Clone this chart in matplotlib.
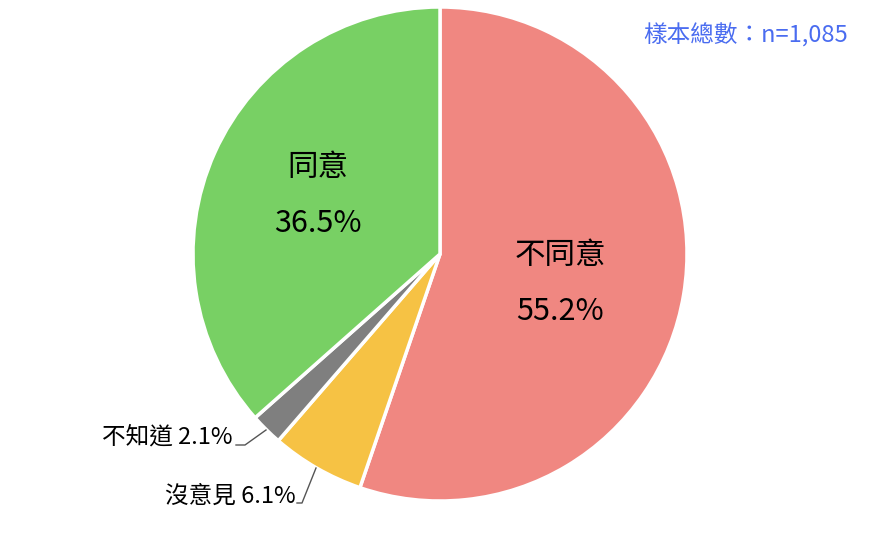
import matplotlib
matplotlib.use("Agg")
import matplotlib.pyplot as plt

plt.rcParams['font.family'] = ['Noto Sans CJK TC', 'DejaVu Sans']

labels = ["不同意", "沒意見", "不知道", "同意"]
values = [55.2, 6.1, 2.1, 36.5]
colors = ["#F08781", "#F6C244", "#7F7F7F", "#78D064"]
sample_note = "樣本總數：n=1,085"

W, H = 883, 545
fig = plt.figure(figsize=(W / 100, H / 100), dpi=100)
ax = fig.add_axes([0, 0, 1, 1])

cx, cy, r = 440, 254, 247
# y axis is flipped, so counterclock=True draws clockwise on screen; start at top
wedges, _ = ax.pie(values, colors=colors, startangle=-90, counterclock=True,
                   center=(cx, cy), radius=r, frame=True,
                   wedgeprops=dict(edgecolor="white", linewidth=2.5))
ax.set_xlim(0, W)
ax.set_ylim(H, 0)
ax.set_aspect("equal")
ax.axis("off")

# big labels inside
ax.text(560, 255, labels[0], ha="center", va="center", fontsize=22)
ax.text(560, 311, f"{values[0]}%", ha="center", va="center", fontsize=22)
ax.text(318, 167, labels[3], ha="center", va="center", fontsize=22)
ax.text(318, 223, f"{values[3]}%", ha="center", va="center", fontsize=22)

# small outside labels with leader lines
ax.plot([266, 245, 236], [430, 445, 445], color="#555555", lw=1)
ax.text(232, 437, f"{labels[2]} {values[2]}%", ha="right", va="center", fontsize=17)
ax.plot([316, 302, 297], [468, 503, 503], color="#555555", lw=1)
ax.text(296, 496, f"{labels[1]} {values[1]}%", ha="right", va="center", fontsize=17)

ax.text(848, 35, sample_note, ha="right", va="center", fontsize=17, color="#4A6CF0")

fig.savefig("out.png", dpi=100)
